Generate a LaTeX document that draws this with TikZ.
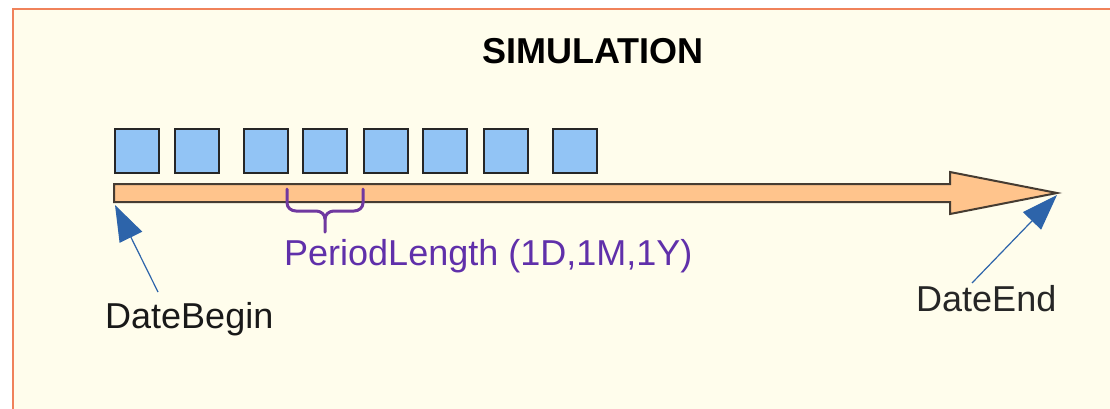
\documentclass[tikz,border=0pt]{standalone}
\usepackage{fontspec}
\setmainfont{Liberation Sans}
\usetikzlibrary{arrows.meta}
\definecolor{bgivory}{RGB}{255,253,236}
\definecolor{frameorange}{RGB}{240,130,90}
\definecolor{boxblue}{RGB}{146,196,245}
\definecolor{peach}{RGB}{255,196,140}
\definecolor{shaftgray}{RGB}{70,60,50}
\definecolor{bracepurple}{RGB}{112,56,160}
\definecolor{textpurple}{RGB}{96,48,170}
\definecolor{pointerblue}{RGB}{45,100,170}
\tikzset{
  period/.style={draw=black!85, line width=2pt, fill=boxblue, minimum width=44pt, minimum height=44pt, inner sep=0pt, anchor=north west},
  label/.style={font=\fontsize{36}{40}\selectfont, inner sep=0pt, anchor=base west},
  pointer/.style={draw=pointerblue, line width=1.2pt, -{Triangle[length=36pt,width=25pt]}},
}
\begin{document}
\begin{tikzpicture}[x=1pt,y=-1pt]
\useasboundingbox (0,0) rectangle (1110,408);
\fill[white] (0,0) rectangle (1110,408);
\draw[frameorange, line width=2.2pt, fill=bgivory] (13,9) rectangle (1125,420);

\node[label, font=\fontsize{36}{40}\selectfont\bfseries] (title) at (482,63) {SIMULATION};

\foreach \i/\x in {1/114,2/174,3/243,4/302,5/363,6/422,7/483,8/552}
  \node[period] (p\i) at (\x,128) {};

% timeline arrow
\draw[shaftgray, line width=2pt, fill=peach, line join=miter]
  (114,184) -- (950,184) -- (950,172) -- (1057,193) -- (950,214) -- (950,202) -- (114,202) -- cycle;
\coordinate (begin) at (115,205);
\coordinate (end) at (1057,195);

% brace
\draw[bracepurple, line width=3pt, line cap=round]
  (287,189) -- (287,203) to[out=270,in=180] (296,211) -- (316,211)
  to[out=0,in=90] (325,219) -- (325,232);
\draw[bracepurple, line width=3pt, line cap=round]
  (363,189) -- (363,203) to[out=270,in=0] (354,211) -- (334,211)
  to[out=180,in=90] (325,219);

\node[label, text=textpurple] (plen) at (284,265) {PeriodLength (1D,1M,1Y)};
\node[label, text=black!90] (db) at (105,328) {DateBegin};
\node[label, text=black!85] (de) at (916,311) {DateEnd};

\coordinate (dbtail) at (158,292);
\coordinate (detail) at (972,283);
\draw[pointer] (dbtail) -- (begin);
\draw[pointer] (detail) -- (end);
\end{tikzpicture}
\end{document}
